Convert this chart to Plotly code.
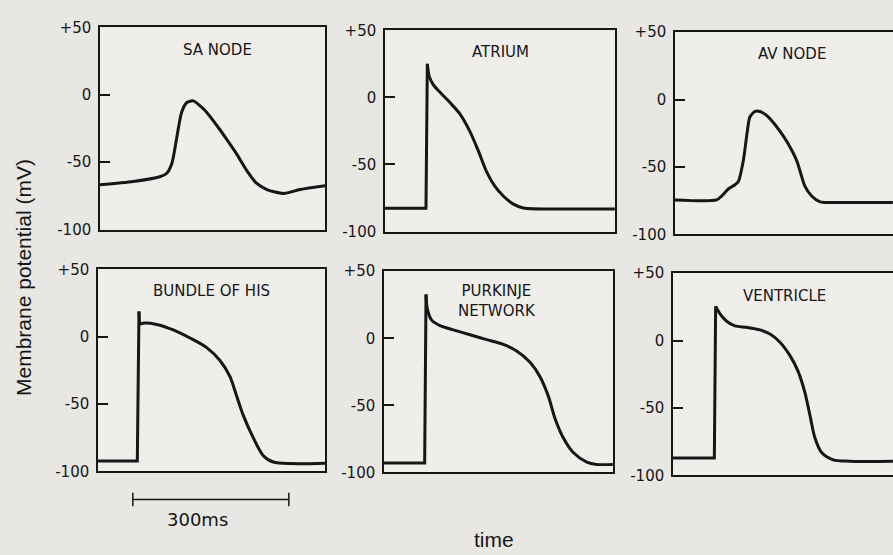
import plotly.graph_objects as go

# ---- data (time in ms, membrane potential in mV) ----
titles = ["SA NODE", "ATRIUM", "AV NODE", "BUNDLE OF HIS", "PURKINJE<br>NETWORK", "VENTRICLE"]

sa_t = [0, 64, 115, 128, 138, 147.5, 157, 167, 179.5, 192, 205, 224, 244, 263, 282, 301, 321, 353, 385, 433]
sa_v = [-66.7, -64.3, -60.8, -58.4, -51.2, -32, -12.9, -5.7, -4.5, -8.1, -12.9, -22.4, -33.2, -44, -56, -65.6, -70.3, -73.2, -70.3, -67.5]

at_t = [0, 78.8, 81.4, 85.2, 93, 105.8, 125, 144, 163.4, 179.5, 195.5, 211.5, 227.5, 246.8, 266, 343, 442]
at_v = [-82.7, -82.7, 25.0, 15.5, 9.3, 3.8, -3.9, -12.3, -25.5, -39.9, -55.5, -66.3, -73.5, -79.6, -82.4, -83.2, -83.2]

av_t = [0, 80, 89.7, 102.5, 115.4, 121.8, 131.4, 139, 144, 154, 163.4, 176, 195.5, 214.7, 234, 250, 262.8, 278.8, 323.6, 419]
av_v = [-74.4, -74.4, -71.5, -66.3, -63.1, -60.8, -45.2, -23.7, -12.9, -8.8, -8.8, -11.7, -20.1, -30.9, -45.2, -64.4, -71.5, -75.8, -76.3, -76.3]

his_t = [0, 75.6, 78.8, 81.5, 86, 112.8, 144.8, 176.9, 209, 234.6, 253.8, 266.6, 279.4, 298.7, 318, 337, 437]
his_v = [-92.3, -92.3, 18.7, 9.5, 10.0, 9.1, 5.0, -1.0, -8.1, -17.7, -29.6, -44, -58.4, -75.1, -88.3, -93, -93.8]

pk_t = [0, 78.2, 80.8, 83.3, 91.6, 107.7, 133.3, 165.4, 197.5, 229.5, 255, 280.8, 300, 316, 329, 345, 364, 390, 409, 440]
pk_v = [-93, -93, 32.7, 21.9, 13.5, 9.4, 6.3, 2.6, -1.0, -4.6, -9.4, -17.8, -28.6, -43.1, -59.9, -74.3, -85.1, -92.3, -94, -94]

vt_t = [0, 79.5, 82, 90.4, 103.2, 119.2, 141.6, 167.3, 186.5, 205.7, 225, 241, 253.8, 263.4, 273, 285.8, 308.2, 340, 423]
vt_v = [-87.1, -87.1, 25.4, 19.8, 14.3, 10.9, 9.8, 7.9, 4.8, -1.2, -11.2, -23.2, -38.8, -55.5, -72.3, -83.1, -88.5, -89.5, -89.5]

tick_vals = [-100, -50, 0, 50]
tick_text = ["-100", "-50", "0", "+50"]
scale_bar_start = 67   # ms, in bundle-of-His panel time
scale_bar_len = 300    # ms

series = [(sa_t, sa_v), (at_t, at_v), (av_t, av_v), (his_t, his_v), (pk_t, pk_v), (vt_t, vt_v)]
sharp_upstroke = [False, True, False, True, True, True]

# ---- layout geometry (pixels) ----
W, H = 893, 555
px_per_ms = 156 / 300
panels = [  # left, right, top, bottom in px
    (100, 325, 19, 228),
    (385, 615, 22, 230),
    (675, 893, 24, 233),
    (98, 325, 269, 478),
    (384, 613, 271, 479),
    (673, 893, 273, 482),
]
title_pos = [(0.524, 0.89), (0.5, 0.894), (0.537, 0.89), (0.502, 0.895), (0.493, 0.851), (0.509, 0.885)]

ink = "#161616"
fig = go.Figure()
layout = dict(
    width=W, height=H,
    margin=dict(l=0, r=0, t=0, b=0),
    paper_bgcolor="#e8e7e4",
    plot_bgcolor="#efeeeb",
    showlegend=False,
    font=dict(family="DejaVu Sans", color=ink),
)
annotations = []
for i, ((t, v), (l, r, tp, bt)) in enumerate(zip(series, panels)):
    n = "" if i == 0 else str(i + 1)
    line_kw = dict(color=ink, width=3)
    if sharp_upstroke[i]:
        pk = v.index(max(v))
        fig.add_trace(go.Scatter(
            x=t[:pk + 1], y=v[:pk + 1], mode="lines", xaxis="x" + n, yaxis="y" + n,
            line=dict(**line_kw, shape="linear"), hoverinfo="skip",
        ))
        fig.add_trace(go.Scatter(
            x=t[pk:], y=v[pk:], mode="lines", xaxis="x" + n, yaxis="y" + n,
            line=dict(**line_kw, shape="spline", smoothing=0.8), hoverinfo="skip",
        ))
    else:
        fig.add_trace(go.Scatter(
            x=t, y=v, mode="lines", xaxis="x" + n, yaxis="y" + n,
            line=dict(**line_kw, shape="spline", smoothing=0.7), hoverinfo="skip",
        ))
    right_edge = r >= W
    layout["xaxis" + n] = dict(
        domain=[l / W, min(r / W, 1.0)],
        range=[0, (r - l) / px_per_ms],
        showline=True, mirror=True, linecolor=ink, linewidth=1.5,
        showgrid=False, zeroline=False, showticklabels=False, ticks="",
        anchor="y" + n, fixedrange=True,
    )
    layout["yaxis" + n] = dict(
        domain=[1 - bt / H, 1 - tp / H],
        range=[-100, 50],
        tickvals=tick_vals, ticktext=tick_text,
        ticks="inside", ticklen=10, tickwidth=1.5, tickcolor=ink,
        showline=True, mirror=(False if right_edge else True), linecolor=ink, linewidth=1.5,
        showgrid=False, zeroline=False,
        tickfont=dict(family="DejaVu Sans", size=15, color=ink),
        ticklabelstandoff=4,
        anchor="x" + n, fixedrange=True,
    )
    tx, ty = title_pos[i]
    annotations.append(dict(
        text=titles[i], xref=("x" + n + " domain"), yref=("y" + n + " domain"),
        x=tx, y=ty, showarrow=False, xanchor="center", yanchor="middle",
        font=dict(family="DejaVu Sans", size=15, color=ink),
    ))

annotations.append(dict(
    text="Membrane potential (mV)", xref="paper", yref="paper",
    x=24 / W, y=1 - 278 / H, textangle=-90, showarrow=False,
    xanchor="center", yanchor="middle",
    font=dict(family="Liberation Sans", size=21, color=ink),
))
annotations.append(dict(
    text="time", xref="paper", yref="paper",
    x=494 / W, y=1 - 548 / H, showarrow=False, xanchor="center", yanchor="middle",
    font=dict(family="Liberation Sans", size=21, color=ink),
))
annotations.append(dict(
    text="300ms", xref="x4", yref="paper",
    x=scale_bar_start + scale_bar_len / 2 - 25, y=1 - 528 / H, showarrow=False,
    xanchor="center", yanchor="middle",
    font=dict(family="DejaVu Sans", size=18, color=ink),
))

bar_y = 1 - 507 / H
tick_half = 7 / H
shapes = [
    dict(type="line", xref="x4", yref="paper", x0=scale_bar_start, x1=scale_bar_start + scale_bar_len,
         y0=bar_y, y1=bar_y, line=dict(color=ink, width=1.5)),
    dict(type="line", xref="x4", yref="paper", x0=scale_bar_start, x1=scale_bar_start,
         y0=bar_y - tick_half, y1=bar_y + tick_half, line=dict(color=ink, width=1.5)),
    dict(type="line", xref="x4", yref="paper", x0=scale_bar_start + scale_bar_len, x1=scale_bar_start + scale_bar_len,
         y0=bar_y - tick_half, y1=bar_y + tick_half, line=dict(color=ink, width=1.5)),
]
layout["annotations"] = annotations
layout["shapes"] = shapes
fig.update_layout(**layout)
fig.write_html("out.html", config={"displayModeBar": False},
               post_script="document.body.style.margin='0';document.body.style.overflow='hidden';")
